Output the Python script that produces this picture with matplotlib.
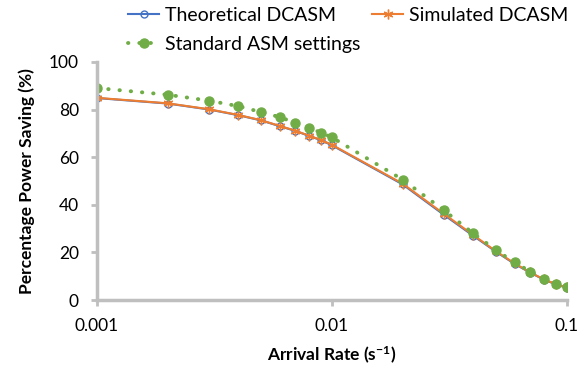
import matplotlib
matplotlib.use("Agg")
import matplotlib.pyplot as plt

plt.rcParams['font.family'] = ['Lato', 'DejaVu Sans']

rate = [0.001, 0.002, 0.003, 0.004, 0.005, 0.006, 0.007, 0.008, 0.009, 0.01,
        0.02, 0.03, 0.04, 0.05, 0.06, 0.07, 0.08, 0.09, 0.1]
theoretical = [84.8, 82.5, 80.0, 77.6, 75.4, 73.0, 71.0, 68.9, 67.1, 65.0,
               48.6, 35.8, 27.0, 20.3, 15.2, 11.5, 8.6, 6.6, 5.2]
simulated = [84.9, 82.6, 80.1, 77.7, 75.5, 73.1, 71.1, 69.0, 67.2, 65.2,
             48.9, 36.2, 27.3, 20.5, 15.4, 11.6, 8.7, 6.7, 5.3]
standard = [89.0, 86.2, 83.7, 81.4, 78.9, 76.8, 74.4, 72.3, 70.3, 68.3,
            50.6, 37.7, 28.0, 21.0, 15.8, 12.0, 9.0, 6.8, 5.4]

grey = '#BFBFBF'

fig = plt.figure(figsize=(5.82, 3.66), dpi=100)
ax = fig.add_axes([0.1667, 0.180, 0.807, 0.651])

l1, = ax.plot(rate, theoretical, color='#4472C4', lw=1.5, marker='o', ms=5,
              mfc='none', mec='#4472C4', mew=1.0, label='Theoretical DCASM')
l2, = ax.plot(rate, simulated, color='#ED7D31', lw=1.5, marker=(6, 2, 0), ms=7,
              mec='#ED7D31', mew=1.0, label='Simulated DCASM')
l3, = ax.plot(rate, standard, color='#70AD47', lw=2.8, ls=(0, (0.1, 2.8)),
              dash_capstyle='round', marker='o', ms=6.5, mfc='#70AD47',
              mec='#70AD47', label='Standard ASM settings')

ax.set_xscale('log')
ax.set_xlim(0.001, 0.1)
ax.set_ylim(0, 100)
ax.set_xticks([0.001, 0.01, 0.1])
ax.set_xticklabels(['0.001', '0.01', '0.1'])
ax.xaxis.set_minor_locator(matplotlib.ticker.NullLocator())
ax.set_yticks([0, 20, 40, 60, 80, 100])

for s in ['top', 'right']:
    ax.spines[s].set_visible(False)
for s in ['left', 'bottom']:
    ax.spines[s].set_color(grey)
    ax.spines[s].set_linewidth(2.5)
ax.tick_params(axis='both', colors=grey, width=2.0, length=4,
               labelcolor='black', labelsize=12.5)
ax.tick_params(axis='y', pad=9)
ax.tick_params(axis='x', pad=9)

ax.set_xlabel('Arrival Rate (s$\\mathregular{^{-1}}$)', fontsize=12.5,
              fontweight='bold', labelpad=8)
ax.set_ylabel('Percentage Power Saving (%)', fontsize=12.5, fontweight='bold',
              labelpad=10)

fig.legend([l1, l3, l2], ['Theoretical DCASM', 'Standard ASM settings', 'Simulated DCASM'],
           loc='upper left', bbox_to_anchor=(0.19, 1.03), ncol=2, frameon=False,
           fontsize=14, handlelength=1.6, handletextpad=0.3, columnspacing=0.6,
           labelspacing=0.65)

fig.savefig('out.png', dpi=100)
